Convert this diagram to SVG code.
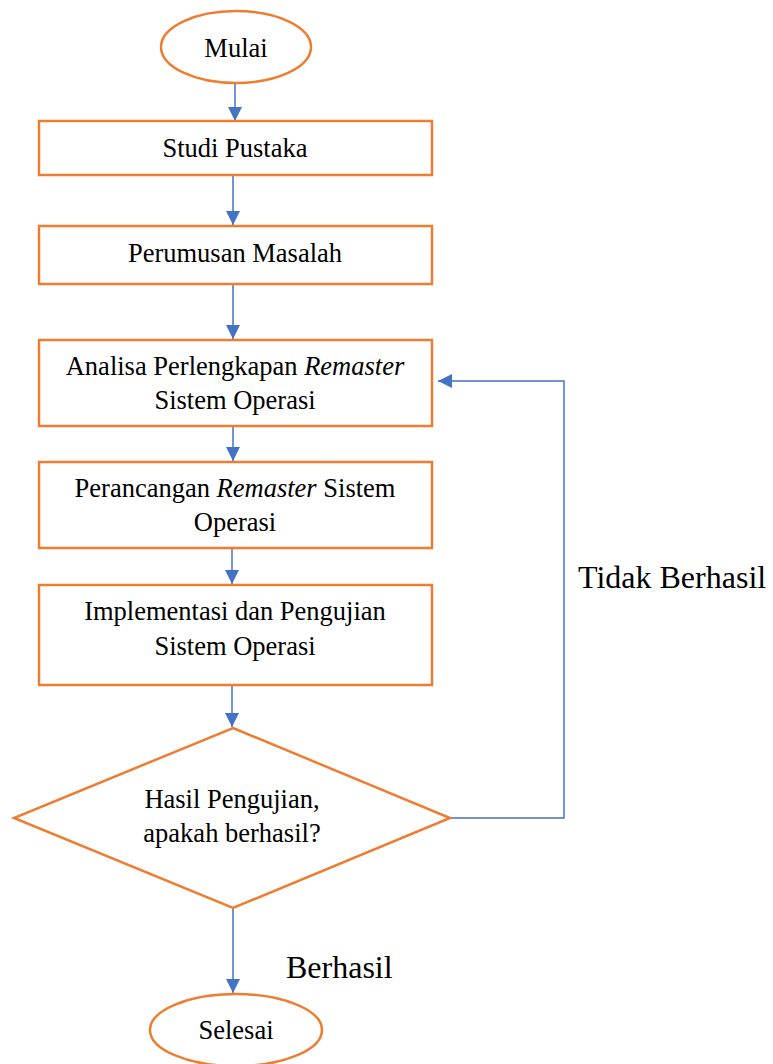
<svg xmlns="http://www.w3.org/2000/svg" width="773" height="1064" viewBox="0 0 773 1064">
<style>
.n{fill:#fff;stroke:#ED7D31;stroke-width:2.5}
.t{font-size:26.5px;fill:#000;text-anchor:middle}
.l{font-size:32px;fill:#000}
.c{fill:none;stroke:#4472C4;stroke-width:1.5}
</style>
<defs>
<marker id="a" markerWidth="14" markerHeight="14" refX="14" refY="7" orient="auto" markerUnits="userSpaceOnUse">
<path d="M0,0 L14,7 L0,14 Z" fill="#4472C4"/>
</marker>
</defs>
<g font-family="Liberation Serif, Times New Roman, Times, serif">
<g id="connectors">
<line class="c" x1="235" y1="83" x2="235" y2="121" marker-end="url(#a)"/>
<line class="c" x1="233" y1="175" x2="233" y2="225" marker-end="url(#a)"/>
<line class="c" x1="233" y1="284" x2="233" y2="339" marker-end="url(#a)"/>
<line class="c" x1="233" y1="426" x2="233" y2="461" marker-end="url(#a)"/>
<line class="c" x1="232" y1="548" x2="232" y2="584" marker-end="url(#a)"/>
<line class="c" x1="232" y1="685" x2="232" y2="727" marker-end="url(#a)"/>
<line class="c" x1="233" y1="908" x2="233" y2="993" marker-end="url(#a)"/>
<polyline class="c" points="450,818 564,818 564,381 438,381" marker-end="url(#a)"/>
<text class="l" x="578" y="588">Tidak Berhasil</text>
<text class="l" x="286" y="978">Berhasil</text>
</g>
<g id="mulai">
<ellipse class="n" cx="236" cy="47" rx="75" ry="36"/>
<text class="t" x="236" y="57">Mulai</text>
</g>
<g id="studi">
<rect class="n" x="39" y="121" width="393" height="54"/>
<text class="t" x="235" y="157">Studi Pustaka</text>
</g>
<g id="perumusan">
<rect class="n" x="39" y="226" width="393" height="58"/>
<text class="t" x="235" y="262">Perumusan Masalah</text>
</g>
<g id="analisa">
<rect class="n" x="39" y="340" width="393" height="86"/>
<text class="t" x="235" y="375">Analisa Perlengkapan <tspan font-style="italic">Remaster</tspan></text>
<text class="t" x="235" y="409">Sistem Operasi</text>
</g>
<g id="perancangan">
<rect class="n" x="39" y="462" width="393" height="86"/>
<text class="t" x="235" y="497">Perancangan <tspan font-style="italic">Remaster</tspan> Sistem</text>
<text class="t" x="235" y="531">Operasi</text>
</g>
<g id="implementasi">
<rect class="n" x="39" y="585" width="393" height="100"/>
<text class="t" x="235" y="620">Implementasi dan Pengujian</text>
<text class="t" x="235" y="655">Sistem Operasi</text>
</g>
<g id="keputusan">
<polygon class="n" points="233,728 450,818 233,908 14,818"/>
<text class="t" x="232" y="808">Hasil Pengujian,</text>
<text class="t" x="232" y="842">apakah berhasil?</text>
</g>
<g id="selesai">
<ellipse class="n" cx="236" cy="1030" rx="86" ry="36"/>
<text class="t" x="236" y="1039">Selesai</text>
</g>
</g>
</svg>
